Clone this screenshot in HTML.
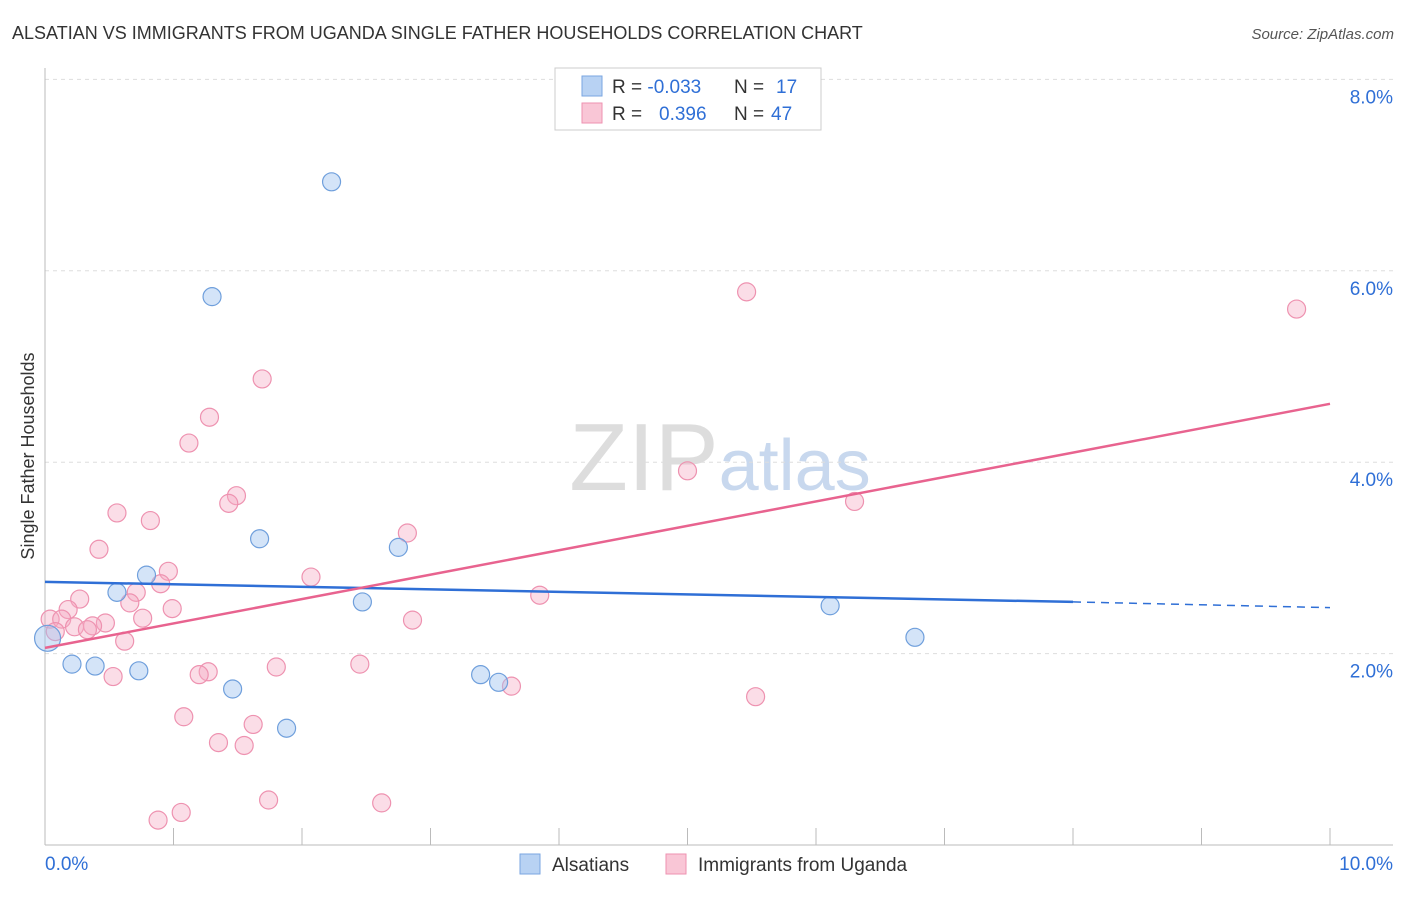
<!DOCTYPE html>
<html><head><meta charset="utf-8">
<style>
body{margin:0;background:#fff;font-family:"Liberation Sans",sans-serif;}
svg text{font-family:"Liberation Sans",sans-serif;}
</style></head>
<body>
<svg id="chart" width="1406" height="892" xmlns="http://www.w3.org/2000/svg">
<text x="12" y="39" font-size="18" fill="#333">ALSATIAN VS IMMIGRANTS FROM UGANDA SINGLE FATHER HOUSEHOLDS CORRELATION CHART</text>
<text x="1394" y="39" font-size="15" fill="#555" text-anchor="end" font-style="italic">Source: ZipAtlas.com</text>
<text x="720" y="490" font-size="96" text-anchor="middle" fill="#ddd" font-family="Liberation Serif"><tspan>ZIP</tspan><tspan fill="#c8d8ee" font-family="Liberation Sans" font-size="72">atlas</tspan></text>
<text transform="translate(34,456) rotate(-90)" font-size="18" fill="#333" text-anchor="middle">Single Father Households</text>
<g id="grid"></g>
<g id="axes"></g>
<g id="marks"></g>
<g>
<rect x="555" y="68" width="266" height="62" fill="#fff" stroke="#ccc"/>
<rect x="582" y="76" width="20" height="20" fill="#b8d2f3" stroke="#7aa6e0"/>
<rect x="582" y="103" width="20" height="20" fill="#f9c6d6" stroke="#ee92b0"/>
<text x="612" y="93" font-size="19" fill="#333">R = <tspan fill="#2f6fd6">-0.033</tspan><tspan x="734">N = </tspan><tspan fill="#2f6fd6" x="776">17</tspan></text>
<text x="612" y="120" font-size="19" fill="#333">R = <tspan fill="#2f6fd6" x="659">0.396</tspan><tspan x="734">N = </tspan><tspan fill="#2f6fd6" x="771">47</tspan></text>
</g>
<g>
<rect x="520" y="854" width="20" height="20" fill="#b8d2f3" stroke="#7aa6e0"/>
<text x="552" y="871" font-size="19" fill="#333">Alsatians</text>
<rect x="666" y="854" width="20" height="20" fill="#f9c6d6" stroke="#ee92b0"/>
<text x="698" y="871" font-size="19" fill="#333">Immigrants from Uganda</text>
</g>
</svg>
<script>
const yTicks=[2,4,6,8];
const yTickLabels=["2.0%","4.0%","6.0%","8.0%"];
const xTickLabels=["0.0%","10.0%"];
const blueX=[2.23,1.30,1.67,2.75,0.79,0.56,2.47,6.11,6.77,0.02,0.21,0.39,0.73,3.39,3.53,1.46,1.88];
const blueY=[6.93,5.73,3.20,3.11,2.82,2.64,2.54,2.50,2.17,2.16,1.89,1.87,1.82,1.78,1.70,1.63,1.22];
const pinkX=[5.46,9.74,1.69,1.28,1.12,5.00,1.49,1.43,6.30,0.56,0.82,2.82,0.42,0.96,2.07,0.90,0.71,0.27,3.85,0.66,0.18,0.99,0.04,0.13,0.76,2.86,0.47,0.37,0.23,0.33,0.08,0.62,1.80,2.45,1.27,1.20,0.53,3.63,5.53,1.08,1.62,1.35,1.55,1.74,2.62,1.06,0.88];
const pinkY=[5.78,5.60,4.87,4.47,4.20,3.91,3.65,3.57,3.59,3.47,3.39,3.26,3.09,2.86,2.80,2.73,2.64,2.57,2.61,2.53,2.46,2.47,2.36,2.36,2.37,2.35,2.32,2.29,2.28,2.25,2.23,2.13,1.86,1.89,1.81,1.78,1.76,1.66,1.55,1.34,1.26,1.07,1.04,0.47,0.44,0.34,0.26];
const blueLine=[2.75,2.54,2.48]; // at x=0, 8, 10
const pinkLine=[2.06,4.61]; // at x=0, 10
const NS="http://www.w3.org/2000/svg";
const sx=v=>45+v*128.5, sy=v=>845-v*95.7;
function mk(tag,attrs,parent){const e=document.createElementNS(NS,tag);for(const k in attrs)e.setAttribute(k,attrs[k]);parent.appendChild(e);return e;}
const grid=document.getElementById('grid'),axes=document.getElementById('axes'),marks=document.getElementById('marks');
yTicks.forEach((t,i)=>{
 const l=mk('line',{x1:45,x2:1393,y1:sy(t),y2:sy(t),stroke:'#ddd','stroke-dasharray':'4,4'},grid);
 
 
 const tx=mk('text',{x:1393,y:sy(t)+24,'font-size':19,fill:'#2f6fd6','text-anchor':'end'},axes);
 tx.textContent=yTickLabels[i];
 
 
});
mk('line',{x1:45,x2:45,y1:68,y2:845,stroke:'#bbb'},axes);
mk('line',{x1:45,x2:1393,y1:845,y2:845,stroke:'#bbb'},axes);
for(let i=0;i<=10;i++){const t=mk('line',{x1:sx(i),x2:sx(i),y1:828,y2:845,stroke:'#bbb'},axes);
 
 }
const xl0=mk('text',{x:45,y:870,'font-size':19,fill:'#2f6fd6'},axes);xl0.textContent=xTickLabels[0];


const xl1=mk('text',{x:1393,y:870,'font-size':19,fill:'#2f6fd6','text-anchor':'end'},axes);xl1.textContent=xTickLabels[1];


pinkX.forEach((x,i)=>{const c=mk('circle',{cx:sx(x),cy:sy(pinkY[i]),r:9,fill:'rgba(246,170,196,0.4)',stroke:'#ee92b0','stroke-width':1.2},marks);
 
 });
blueX.forEach((x,i)=>{const c=mk('circle',{cx:sx(x),cy:sy(blueY[i]),r:i==9?13:9,fill:'rgba(160,195,240,0.45)',stroke:'#6f9fdc','stroke-width':1.2},marks);
 
 });
const bl=mk('line',{x1:sx(0),y1:sy(blueLine[0]),x2:sx(8),y2:sy(blueLine[1]),stroke:'#2f6fd6','stroke-width':2.5},marks);


const bd=mk('line',{x1:sx(8),y1:sy(blueLine[1]),x2:sx(10),y2:sy(blueLine[2]),stroke:'#2f6fd6','stroke-width':1.5,'stroke-dasharray':'8,6'},marks);


const pl=mk('line',{x1:sx(0),y1:sy(pinkLine[0]),x2:sx(10),y2:sy(pinkLine[1]),stroke:'#e8638f','stroke-width':2.5},marks);


</script>
</body></html>
